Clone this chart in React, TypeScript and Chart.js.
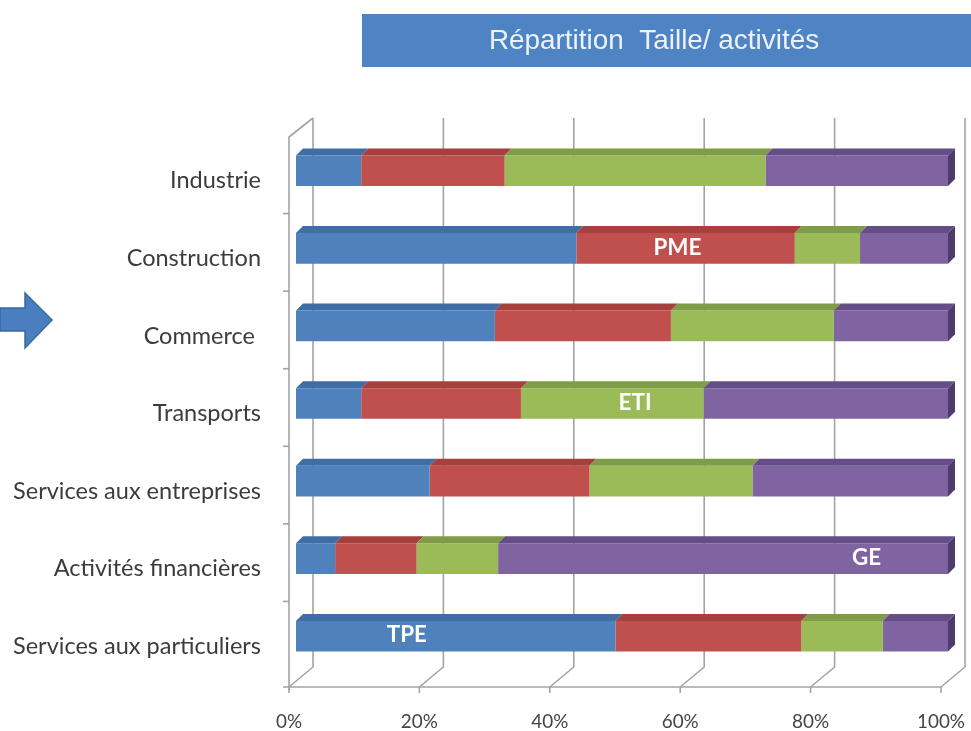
import React, { useEffect, useRef } from "react";
import { Chart, registerables } from "chart.js";

Chart.register(...registerables);

const titleText = "Répartition  Taille/ activités";
const categories = [
  "Industrie",
  "Construction",
  "Commerce ",
  "Transports",
  "Services aux entreprises",
  "Activités financières",
  "Services aux particuliers",
];
const seriesNames = ["TPE", "PME", "ETI", "GE"];
const tpeValues = [10, 43, 30.5, 10, 20.5, 6, 49];
const pmeValues = [22, 33.5, 27, 24.5, 24.5, 12.5, 28.5];
const etiValues = [40, 10, 25, 28, 25, 12.5, 12.5];
const geValues = [28, 13.5, 17.5, 37.5, 30, 69, 10];
const xTickValues = [0, 20, 40, 60, 80, 100];
const annotationTexts = ["PME", "ETI", "GE", "TPE"];
const annotationCategories = ["Construction", "Transports", "Activités financières", "Services aux particuliers"];
const annotationValues = [58.5, 52, 87.5, 17];

const frontColors = ["#4f81bd", "#c0504d", "#9bbb59", "#8064a2"];
const topColors = ["#3f6ea6", "#a5403d", "#7f9d47", "#654d88"];
const endColor = "#4d3b6c";

function fitSize(text: string, family: string, weight: string, target: number): number {
  const c = document.createElement("canvas").getContext("2d")!;
  c.font = `${weight} 100px ${family}`;
  const w = c.measureText(text).width;
  return Math.round(((100 * target) / w) * 10) / 10;
}

const DEPTH = 7;

const decorPlugin = {
  id: "decor",
  beforeDraw(chart: any) {
    const ctx = chart.ctx as CanvasRenderingContext2D;
    ctx.save();
    ctx.fillStyle = "#ffffff";
    ctx.fillRect(0, 0, chart.width, chart.height);
    // title box
    ctx.fillStyle = "#4f84c4";
    ctx.fillRect(362, 14, chart.width - 362, 53);
    const tsize = fitSize(titleText, "'Liberation Sans', Arial, sans-serif", "normal", 330);
    ctx.font = `normal ${tsize}px 'Liberation Sans', Arial, sans-serif`;
    ctx.fillStyle = "#eef2f8";
    ctx.textAlign = "center";
    ctx.textBaseline = "middle";
    ctx.fillText(titleText, 654, 41);
    // arrow
    ctx.beginPath();
    ctx.moveTo(0, 308);
    ctx.lineTo(25, 308);
    ctx.lineTo(25, 293);
    ctx.lineTo(52, 320);
    ctx.lineTo(25, 348);
    ctx.lineTo(25, 331);
    ctx.lineTo(0, 331);
    ctx.closePath();
    ctx.fillStyle = "#4a7fbf";
    ctx.fill();
    ctx.strokeStyle = "#3a679f";
    ctx.lineWidth = 1.5;
    ctx.stroke();
    ctx.restore();
  },
  beforeDatasetsDraw(chart: any) {
    const ctx = chart.ctx as CanvasRenderingContext2D;
    const { left, top, bottom } = chart.chartArea;
    const xs = chart.scales.x;
    const ys = chart.scales.y;
    ctx.save();
    ctx.strokeStyle = "#a3a3a3";
    ctx.lineWidth = 1.6;
    const frontY = bottom + 12;
    xTickValues.forEach((v) => {
      const px = xs.getPixelForValue(v);
      ctx.beginPath();
      ctx.moveTo(px + 17, top - 14);
      ctx.lineTo(px + 17, bottom - 8);
      ctx.lineTo(px - 7, frontY);
      ctx.stroke();
      ctx.beginPath();
      ctx.moveTo(px - 7, frontY);
      ctx.lineTo(px - 7, frontY + 6);
      ctx.stroke();
    });
    ctx.beginPath();
    ctx.moveTo(left - 13, frontY);
    ctx.lineTo(xs.getPixelForValue(100) - 7, frontY);
    ctx.stroke();
    ctx.beginPath();
    ctx.moveTo(left + 17, top - 14);
    ctx.lineTo(left - 7, top + 5);
    ctx.lineTo(left - 7, frontY + 3);
    ctx.stroke();
    for (let i = 1; i < categories.length; i++) {
      const yb = (ys.getPixelForValue(i - 1) + ys.getPixelForValue(i)) / 2 + 4;
      ctx.beginPath();
      ctx.moveTo(left - 13, yb);
      ctx.lineTo(left - 7, yb);
      ctx.stroke();
    }
    ctx.restore();
  },
  afterDatasetsDraw(chart: any) {
    const ctx = chart.ctx as CanvasRenderingContext2D;
    const n = chart.data.datasets.length;
    ctx.save();
    for (let d = 0; d < n; d++) {
      const meta = chart.getDatasetMeta(d);
      meta.data.forEach((el: any) => {
        const { x, y, base, height } = el.getProps(["x", "y", "base", "height"], true);
        const yTop = y - height / 2;
        const yBot = y + height / 2;
        ctx.beginPath();
        ctx.moveTo(base, yTop);
        ctx.lineTo(x, yTop);
        ctx.lineTo(x + DEPTH, yTop - DEPTH);
        ctx.lineTo(base + DEPTH, yTop - DEPTH);
        ctx.closePath();
        ctx.fillStyle = topColors[d];
        ctx.fill();
        if (d === n - 1) {
          ctx.beginPath();
          ctx.moveTo(x, yTop);
          ctx.lineTo(x + DEPTH, yTop - DEPTH);
          ctx.lineTo(x + DEPTH, yBot - DEPTH);
          ctx.lineTo(x, yBot);
          ctx.closePath();
          ctx.fillStyle = endColor;
          ctx.fill();
        }
      });
    }
    const xs = chart.scales.x;
    const ys = chart.scales.y;
    const asize = fitSize("PME", "Lato, sans-serif", "bold", 48);
    ctx.font = `bold ${asize}px Lato, sans-serif`;
    ctx.fillStyle = "#ffffff";
    ctx.textAlign = "center";
    ctx.textBaseline = "middle";
    annotationTexts.forEach((t, i) => {
      const ci = categories.indexOf(annotationCategories[i]);
      ctx.fillText(t, xs.getPixelForValue(annotationValues[i]), ys.getPixelForValue(ci) - 1);
    });
    ctx.restore();
  },
};

export default function App() {
  const ref = useRef<HTMLCanvasElement | null>(null);
  useEffect(() => {
    if (!ref.current) return;
    const ySize = fitSize("Services aux particuliers", "Lato, sans-serif", "normal", 248);
    const xSize = fitSize("100%", "Lato, sans-serif", "normal", 48);
    const chart = new Chart(ref.current, {
      type: "bar",
      data: {
        labels: categories,
        datasets: [tpeValues, pmeValues, etiValues, geValues].map((vals, i) => ({
          label: seriesNames[i],
          data: vals,
          backgroundColor: frontColors[i],
          borderWidth: 0,
          categoryPercentage: 1,
          barPercentage: 0.395,
        })),
      },
      options: {
        animation: false,
        responsive: false,
        indexAxis: "y",
        layout: { padding: { top: 132, right: 23, left: 0, bottom: 0 } },
        plugins: {
          legend: { display: false },
          tooltip: { enabled: false },
          title: { display: false },
        },
        scales: {
          x: {
            stacked: true,
            min: 0,
            max: 100,
            afterBuildTicks: (s: any) => {
              s.ticks = xTickValues.map((v) => ({ value: v }));
            },
            grid: { display: false, drawTicks: false },
            border: { display: false },
            ticks: {
              callback: (v: any) => `${v}%`,
              labelOffset: -7,
              padding: 36,
              color: "#444444",
              font: { family: "Lato, sans-serif", size: xSize },
            },
            afterFit: (s: any) => {
              s.height = 56;
              s.paddingLeft = 0;
              s.paddingRight = 0;
            },
          },
          y: {
            stacked: true,
            grid: { display: false, drawTicks: false },
            border: { display: false },
            ticks: {
              autoSkip: false,
              labelOffset: 10,
              padding: 35,
              color: "#3c3c3c",
              font: { family: "Lato, sans-serif", size: ySize },
            },
            afterFit: (s: any) => {
              s.width = 296;
              s.paddingTop = 0;
              s.paddingBottom = 0;
            },
          },
        },
      } as any,
      plugins: [decorPlugin],
    });
    return () => chart.destroy();
  }, []);
  return (
    <div style={{ position: "absolute", left: 0, top: 0, width: 971, height: 731, background: "#fff" }}>
      <canvas ref={ref} width={971} height={731} style={{ display: "block" }} />
    </div>
  );
}
